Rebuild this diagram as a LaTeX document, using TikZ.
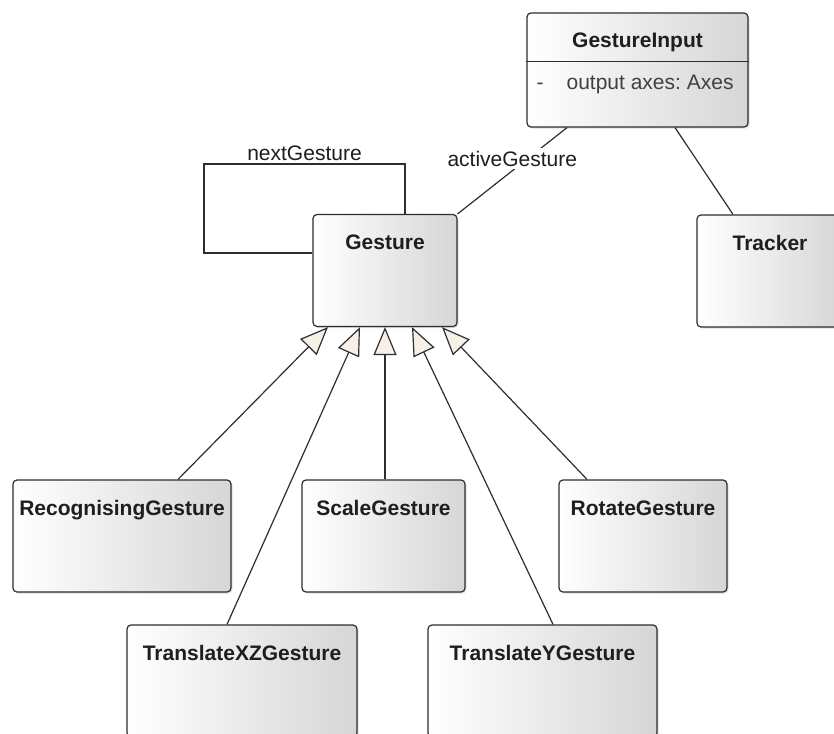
\documentclass[tikz,border=0pt]{standalone}
\usepackage{fontspec}
\setmainfont{Liberation Sans}
\usetikzlibrary{arrows.meta,shadows}

\definecolor{umlline}{HTML}{2E2E2E}
\definecolor{umltext}{HTML}{1E1E1E}
\definecolor{umlshade}{HTML}{D6D6D6}
\definecolor{arrowfill}{HTML}{F6F1E4}

\tikzset{
    classbox/.style={draw=umlline, line width=1.2pt, rounded corners=4pt,
        left color=white, right color=umlshade, text=umltext,
        drop shadow={shadow xshift=1.5pt, shadow yshift=-1.5pt, opacity=0.25},
        font=\bfseries\fontsize{21}{25}\selectfont,
        inner xsep=0pt, inner ysep=4pt, text height=31pt, text depth=73pt,
        minimum width=#1},
    attrtext/.style={text=umltext!85, font=\frenchspacing\fontsize{21}{25}\selectfont, inner sep=0pt},
    assoc/.style={draw=umlline, line width=1.2pt},
    generalize/.style={draw=umlline, line width=1.2pt,
        -{Triangle[length=28pt, width=23pt, fill=arrowfill]}},
    rolelabel/.style={text=umltext, font=\fontsize{21}{25}\selectfont, fill=white, inner sep=3pt}
}

\begin{document}
\begin{tikzpicture}[x=1pt, y=-1pt]
            % Canvas
            \path[fill=white, use as bounding box] (0,0) rectangle (834,733);
            \clip (0,0) rectangle (834,733);

            % Classes
            \node[classbox=221pt, text depth=75pt] (gin) at (637.5,70) {GestureInput};
            \node[classbox=144pt] (gesture) at (385,270.5) {Gesture};
            \node[classbox=146pt] (tracker) at (770,271) {Tracker};
            \node[classbox=218pt] (rec) at (122,536) {RecognisingGesture};
            \node[classbox=163pt] (scale) at (383.5,536) {ScaleGesture};
            \node[classbox=168pt] (rot) at (643,536) {RotateGesture};
            \node[classbox=230pt] (txz) at (242,681) {TranslateXZGesture};
            \node[classbox=229pt] (ty) at (542.5,681) {TranslateYGesture};

            % Attribute compartment of GestureInput
            \draw[umlline, line width=1pt] ([yshift=-49pt]gin.north west) -- ([yshift=-49pt]gin.north east);
            \node[attrtext, anchor=base west] (ginattr) at ([xshift=10pt, yshift=-77pt]gin.north west)
                {-\hspace{23pt}output axes: Axes};

            % Self association of Gesture
            \coordinate (loopbl) at (204,253);
            \coordinate (looptl) at (204,164);
            \coordinate (looptr) at (405,164);
            \draw[assoc] ([yshift=17.5pt]gesture.west) -- (loopbl) -- (looptl)
                -- node[rolelabel, above, fill=none] (nextlbl) {nextGesture} (looptr)
                -- ([xshift=20pt]gesture.north);

            % Associations of GestureInput
            \draw[assoc] ([xshift=-70.5pt]gin.south) -- node[rolelabel, pos=0.5, yshift=12pt] (activelbl) {activeGesture} (gesture.north east);
            \draw[assoc] ([xshift=37.5pt]gin.south) -- ([xshift=-37pt]tracker.north);

            % Generalizations to Gesture
            \foreach \child/\from/\to in {rec/56pt/-57pt, txz/-15pt/-25pt, scale/1.5pt/0pt, ty/10.5pt/27pt, rot/-56pt/57pt} {
                \draw[generalize] ([xshift=\from]\child.north) -- ([xshift=\to]gesture.south);
            }
        \end{tikzpicture}
\end{document}
